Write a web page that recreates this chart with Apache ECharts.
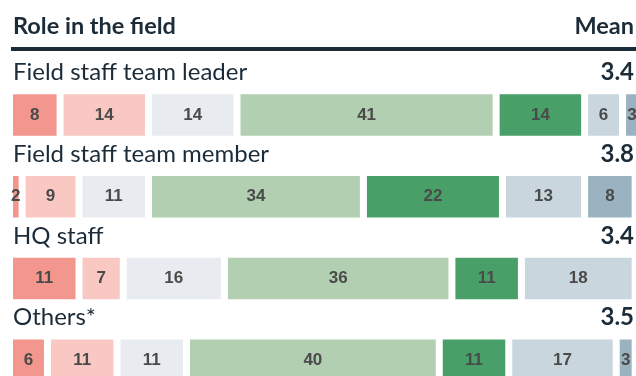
<!DOCTYPE html>
<html>
<head>
<meta charset="utf-8">
<script src="https://cdn.jsdelivr.net/npm/echarts@6/dist/echarts.min.js"></script>
<style>
  html, body { margin: 0; padding: 0; background: #ffffff; }
  #chart { width: 636px; height: 376px; }
</style>
</head>
<body>
<div id="chart"></div>
<script>
// Roles and their mean scores
const roles = ['Field staff team leader', 'Field staff team member', 'HQ staff', 'Others*'];
const means = ['3.4', '3.8', '3.4', '3.5'];

// Share of answers (%) on each point of the 7-point scale, per role
const score1 = [8, 2, 11, 6];
const score2 = [14, 9, 7, 11];
const score3 = [14, 11, 16, 11];
const score4 = [41, 34, 36, 40];
const score5 = [14, 22, 11, 11];
const score6 = [6, 13, 18, 17];
const score7 = [3, 8, 0, 3];

const scoreSeries = [score1, score2, score3, score4, score5, score6, score7];
const scoreNames = ['1', '2', '3', '4', '5', '6', '7'];
const scoreColors = ['#f2968e', '#f9c8c3', '#e8ebf0', '#b2cfb2', '#48a068', '#c9d6de', '#9bb3c0'];

const TEXT_DARK = '#1b2b38';
const FONT = 'Lato, "Open Sans", sans-serif';

const chart = echarts.init(document.getElementById('chart'), null, { renderer: 'canvas' });

const series = scoreSeries.map((values, k) => ({
  name: scoreNames[k],
  type: 'bar',
  stack: 'total',
  barWidth: 48.5,
  data: values,
  itemStyle: { color: scoreColors[k], borderColor: '#ffffff', borderWidth: 3.5 },
  label: {
    show: true,
    position: 'inside',
    color: '#4a4a4a',
    fontFamily: 'Liberation Sans, Arial, sans-serif',
    fontWeight: 'bold',
    fontSize: 17,
    formatter: p => (p.value > 0 ? String(p.value) : '')
  },
  emphasis: { disabled: true },
  animation: false
}));

chart.setOption({
  animation: false,
  grid: { left: 9.5, top: 74, width: 632, height: 327, containLabel: false, outerBoundsMode: 'none' },
  xAxis: { type: 'value', min: 0, max: 100, show: false },
  yAxis: { type: 'category', data: roles, inverse: true, show: false },
  series: series
});

// Role names above each bar and mean scores on the right, placed from the category axis
const graphics = [
  { type: 'text', x: 13, y: 26, style: { text: 'Role in the field', font: 'bold 23.5px ' + FONT, fill: TEXT_DARK, textVerticalAlign: 'middle' } },
  { type: 'text', x: 634, y: 26, style: { text: 'Mean', font: 'bold 23.5px ' + FONT, fill: TEXT_DARK, textVerticalAlign: 'middle', textAlign: 'right' } },
  { type: 'rect', shape: { x: 11, y: 47, width: 625, height: 4 }, style: { fill: '#1b2b38' } }
];
roles.forEach((role, i) => {
  const cy = chart.convertToPixel({ yAxisIndex: 0 }, role);
  graphics.push({
    type: 'text', x: 13, y: cy - 42.5,
    style: { text: role, font: '24px ' + FONT, fill: TEXT_DARK, textVerticalAlign: 'middle', textAlign: 'left' }
  });
  graphics.push({
    type: 'text', x: 634, y: cy - 42.5,
    style: { text: means[i], font: 'bold 24px ' + FONT, fill: TEXT_DARK, textVerticalAlign: 'middle', textAlign: 'right' }
  });
});
chart.setOption({ graphic: graphics });
</script>
</body>
</html>
